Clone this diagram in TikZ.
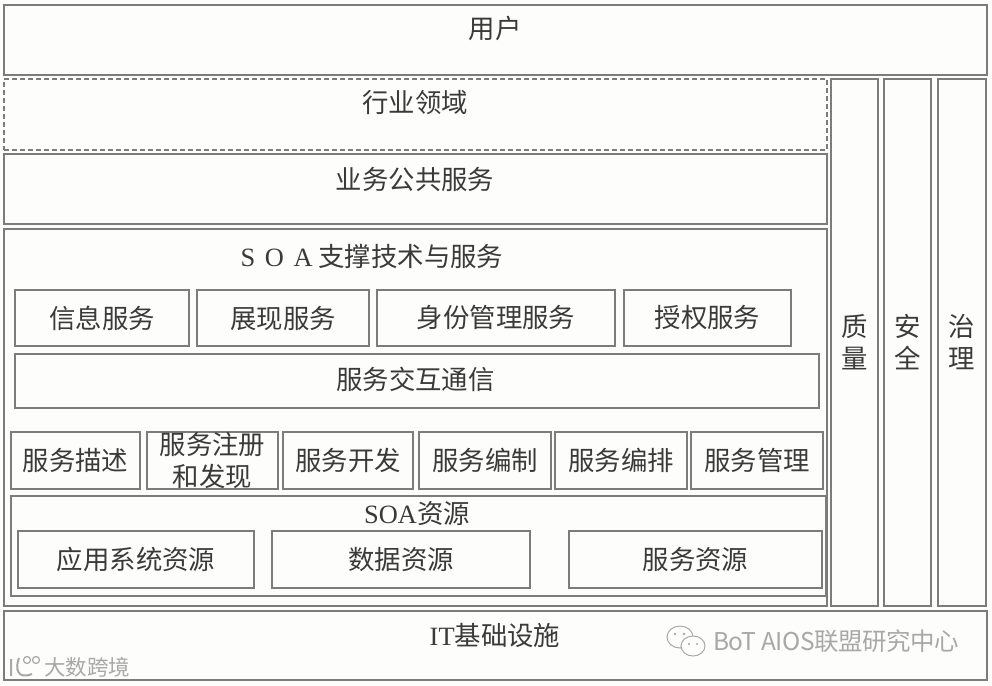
\documentclass[tikz,border=0pt]{standalone}
\usepackage{fontspec}
\usepackage{xcolor}
\setmainfont{Liberation Serif}
\newfontfamily\cjk{Noto Sans CJK SC}
\definecolor{framegray}{HTML}{7C7C78}
\definecolor{inkgray}{HTML}{3A3A3A}
\definecolor{markgray}{HTML}{A8A8A4}
\definecolor{papercolor}{HTML}{FDFDFB}
\tikzset{
    box/.style={draw=framegray, line width=1.2pt, rectangle, inner sep=0pt, text=inkgray, align=center,
        font=\fontsize{26.4}{32}\selectfont\cjk},
    title/.style={inner sep=0pt, text=inkgray, align=center, font=\fontsize{26.4}{32}\selectfont\cjk},
    wmark/.style={text=markgray, inner sep=0pt}
}
\begin{document}
\begin{tikzpicture}[x=1pt,y=-1pt]
    \useasboundingbox[fill=papercolor] (0,0) rectangle (992,685);
    % top layers
    \node[box,minimum width=983pt,minimum height=70pt] (user) at (495.5,40) {};
    \node[title] (usertext) at (495,28) {用户};
    \node[box,dash pattern=on 5pt off 3pt,minimum width=823pt,minimum height=71pt] (industry) at (415.5,114.5) {};
    \node[title] (industrytext) at (415,103) {行业领域};
    \node[box,minimum width=823pt,minimum height=70pt] (public) at (415.5,189) {};
    \node[title] (publictext) at (415,179) {业务公共服务};
    % SOA block
    \node[box,minimum width=823pt,minimum height=377pt] (soa) at (415.5,417.5) {};
    \node[title] (soatext) at (372,256) {{\rmfamily S\hspace{3pt} O\hspace{3pt} A} 支撑技术与服务};
    \node[box,minimum width=174pt,minimum height=56pt] (info) at (102,318) {信息服务};
    \node[box,minimum width=172pt,minimum height=56pt] (show) at (283,318) {展现服务};
    \node[box,minimum width=238pt,minimum height=56pt] (identity) at (496,318) {身份管理服务};
    \node[box,minimum width=167pt,minimum height=56pt] (auth) at (707.5,318) {授权服务};
    \node[box,minimum width=804pt,minimum height=54pt] (comm) at (417,381) {};
    \node[title] (commtext) at (415.5,379) {服务交互通信};
    \node[box,minimum width=129pt,minimum height=57pt] (describe) at (75.5,460.5) {服务描述};
    \node[box,minimum width=131pt,minimum height=57pt] (register) at (212.5,460.5) {服务注册\\和发现};
    \node[box,minimum width=130pt,minimum height=57pt] (develop) at (348,460.5) {服务开发};
    \node[box,minimum width=132pt,minimum height=57pt] (orchestrate) at (485,460.5) {服务编制};
    \node[box,minimum width=132pt,minimum height=57pt] (choreograph) at (621,460.5) {服务编排};
    \node[box,minimum width=132pt,minimum height=57pt] (manage) at (757,460.5) {服务管理};
    % resources
    \node[box,minimum width=815pt,minimum height=100pt] (resource) at (418.5,546) {};
    \node[title] (resourcetext) at (417,514) {{\rmfamily SOA}资源};
    \node[box,minimum width=236pt,minimum height=57pt] (appres) at (136,559.5) {应用系统资源};
    \node[box,minimum width=258pt,minimum height=57pt] (datares) at (401,559.5) {数据资源};
    \node[box,minimum width=253pt,minimum height=57pt] (svcres) at (695.5,559.5) {服务资源};
    % side columns
    \node[box,minimum width=47pt,minimum height=527pt] (quality) at (854.5,342.5) {质\\量};
    \node[box,minimum width=47pt,minimum height=527pt] (safety) at (907.5,342.5) {安\\全};
    \node[box,minimum width=48pt,minimum height=527pt] (govern) at (962,342.5) {治\\理};
    % bottom layer
    \node[box,minimum width=983pt,minimum height=69pt] (infra) at (495.5,645.5) {};
    \node[title] (infratext) at (495,635) {{\rmfamily IT}基础设施};
    % watermarks
    \node[wmark,font=\fontsize{24.5}{28}\selectfont\cjk\addfontfeature{LetterSpace=-2}] (wechattext) at (836,641) {BoT AIOS联盟研究中心};
    \draw[markgray,line width=1pt] (680,637) ellipse (13 and 11);
    \draw[markgray,line width=1pt,fill=papercolor] (693,646) ellipse (12 and 10);
    \fill[markgray] (675,634) circle (1.3) (684,634) circle (1.3) (689,644) circle (1.1) (697,644) circle (1.1);
    \node[wmark,font=\fontsize{21.5}{24}\selectfont\cjk] (logotext) at (87,667) {大数跨境};
    \draw[markgray,line width=2pt] (11,659) -- (11,676) (19,658) .. controls (15,668) and (17,680) .. (32,674);
    \draw[markgray,line width=1.2pt] (27,660) circle (3.5) (36,660) circle (3.5);
\end{tikzpicture}
\end{document}
